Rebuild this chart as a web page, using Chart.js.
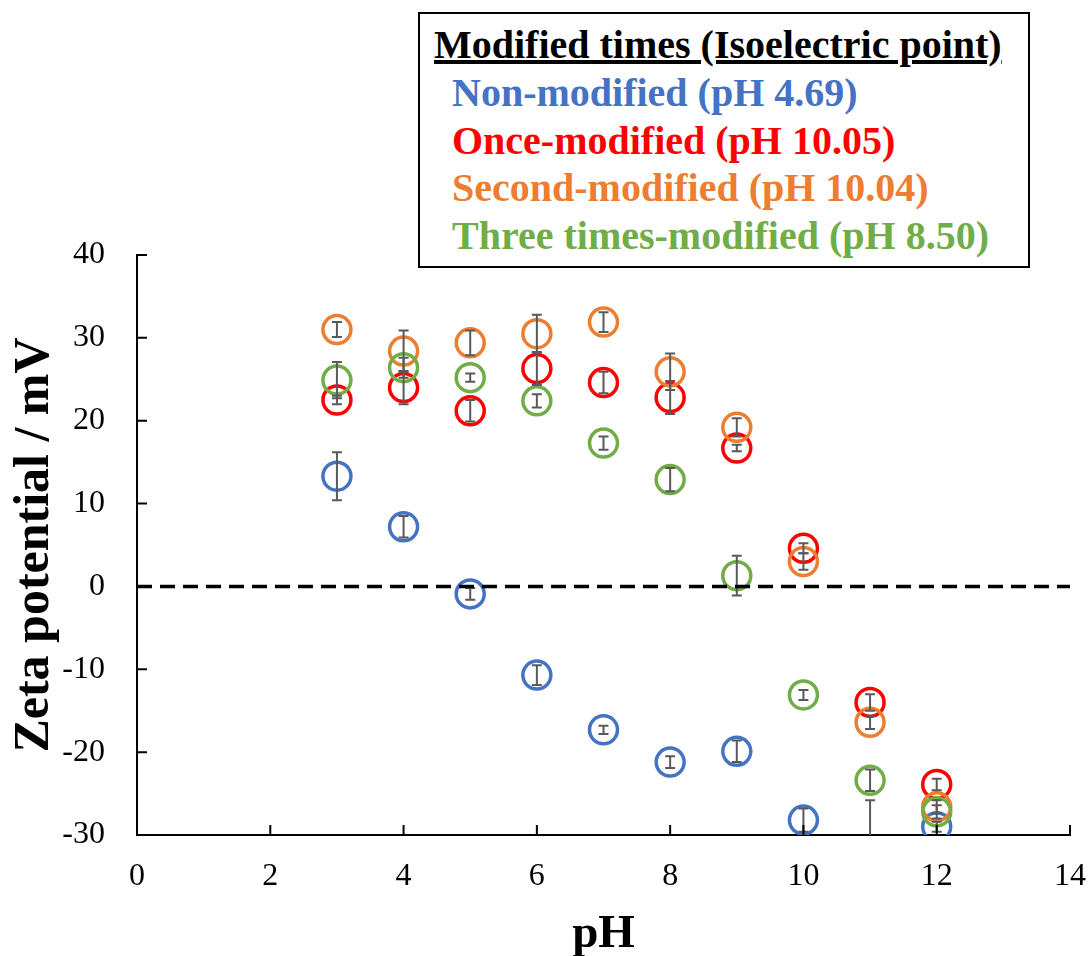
<!DOCTYPE html>
<html>
<head>
<meta charset="utf-8">
<script src="https://cdn.jsdelivr.net/npm/chart.js@4/dist/chart.umd.min.js"></script>
<style>
  body { margin: 0; background: #fff; }
  #wrap { position: relative; width: 1091px; height: 956px; }
  #legendBox {
    position: absolute; left: 418px; top: 12px; width: 608px; height: 252px;
    border: 2px solid #000; background: #fff;
    font-family: "Liberation Serif", "Times New Roman", serif; font-weight: bold; font-size: 40px;
  }
  #legendBox div { position: absolute; white-space: nowrap; line-height: 1; }
</style>
</head>
<body>
<div id="wrap">
  <canvas id="zetaChart" width="1091" height="956"></canvas>
  <div id="legendBox">
    <div style="left:14px; top:11px; text-decoration: underline; color:#000;">Modified times (Isoelectric point)</div>
    <div style="left:32px; top:59px; color:#4472C4;">Non-modified (pH 4.69)</div>
    <div style="left:32px; top:107px; color:#FF0000;">Once-modified (pH 10.05)</div>
    <div style="left:32px; top:154px; color:#ED7D31;">Second-modified (pH 10.04)</div>
    <div style="left:32px; top:202px; color:#70AD47;">Three times-modified (pH 8.50)</div>
  </div>
</div>
<script>
const pH = [3, 4, 5, 6, 7, 8, 9, 10, 11, 12];

const nonModified = [13.3, 7.2, -0.9, -10.7, -17.3, -21.2, -19.9, -28.2, -33.0, -29.0];
const nonModifiedErr = [2.9, 1.3, 0.7, 1.2, 0.5, 0.7, 1.3, 1.4, 7.2, 0.6];

const onceModified = [22.5, 24.0, 21.2, 26.3, 24.6, 22.8, 16.7, 4.6, -14.0, -23.9];
const onceModifiedErr = [0.5, 2.0, 1.3, 2.0, 1.3, 2.0, 0.4, 0.6, 1.0, 0.7];

const secondModified = [31.0, 28.4, 29.4, 30.5, 31.9, 25.9, 19.2, 3.0, -16.4, -26.6];
const secondModifiedErr = [0.9, 2.5, 1.5, 2.3, 1.2, 2.2, 1.1, 1.0, 0.8, 0.8];

const threeModified = [24.9, 26.4, 25.2, 22.4, 17.3, 12.9, 1.3, -13.1, -23.4, -27.2];
const threeModifiedErr = [2.2, 1.2, 0.5, 0.8, 0.8, 1.4, 2.4, 0.6, 1.3, 0.8];

const xTicks = [0, 2, 4, 6, 8, 10, 12, 14];
const yTicks = [-30, -20, -10, 0, 10, 20, 30, 40];

const serif = '"Liberation Serif", "Times New Roman", serif';

function points(vals, errs) {
    return pH.map(function(x, i) { return { x: x, y: vals[i], err: errs[i] }; });
}

function series(label, vals, errs, color, order) {
    return {
        label: label,
        data: points(vals, errs),
        borderColor: color,
        backgroundColor: "rgba(0,0,0,0)",
        pointRadius: 14,
        pointHoverRadius: 14,
        pointBorderWidth: 3.5,
        pointHoverBorderWidth: 3.5,
        showLine: false,
        order: order
    };
}

// error bars, zero line and inward tick marks
const extras = {
    id: "extras",
    afterDatasetsDraw(chart) {
        const ctx = chart.ctx;
        const xs = chart.scales.x, ys = chart.scales.y;
        const area = chart.chartArea;
        ctx.save();
        ctx.beginPath();
        ctx.rect(area.left, area.top - 20, area.right - area.left, area.bottom - area.top + 20);
        ctx.clip();
        ctx.strokeStyle = "#595959";
        ctx.lineWidth = 2;
        chart.data.datasets.forEach(function(ds) {
            ds.data.forEach(function(p) {
                const px = xs.getPixelForValue(p.x);
                const top = ys.getPixelForValue(p.y + p.err);
                const bot = ys.getPixelForValue(p.y - p.err);
                ctx.beginPath();
                ctx.moveTo(px, top); ctx.lineTo(px, bot);
                ctx.moveTo(px - 5, top); ctx.lineTo(px + 5, top);
                ctx.moveTo(px - 5, bot); ctx.lineTo(px + 5, bot);
                ctx.stroke();
            });
        });
        ctx.restore();

        // dashed zero line
        ctx.save();
        ctx.strokeStyle = "#000";
        ctx.lineWidth = 3.5;
        ctx.setLineDash([15, 8]);
        const y0 = ys.getPixelForValue(0);
        ctx.beginPath();
        ctx.moveTo(area.left, y0); ctx.lineTo(area.right, y0);
        ctx.stroke();
        ctx.restore();

        // tick marks pointing into the plot
        ctx.save();
        ctx.strokeStyle = "#000";
        ctx.lineWidth = 2;
        ctx.beginPath();
        xTicks.forEach(function(v) {
            const px = xs.getPixelForValue(v);
            ctx.moveTo(px, area.bottom); ctx.lineTo(px, area.bottom - 10);
        });
        yTicks.forEach(function(v) {
            const py = ys.getPixelForValue(v);
            ctx.moveTo(area.left, py); ctx.lineTo(area.left + 10, py);
        });
        ctx.stroke();
        ctx.restore();
    }
};

const ctx = document.getElementById("zetaChart").getContext("2d");
new Chart(ctx, {
    type: "scatter",
    data: {
        datasets: [
            series("Non-modified (pH 4.69)", nonModified, nonModifiedErr, "#4472C4", 3),
            series("Once-modified (pH 10.05)", onceModified, onceModifiedErr, "#FF0000", 2),
            series("Second-modified (pH 10.04)", secondModified, secondModifiedErr, "#ED7D31", 1),
            series("Three times-modified (pH 8.50)", threeModified, threeModifiedErr, "#70AD47", 0)
        ]
    },
    options: {
        responsive: false,
        animation: false,
        events: [],
        layout: { padding: { top: 255, right: 0, bottom: 0, left: 0 } },
        plugins: {
            legend: { display: false },
            tooltip: { enabled: false }
        },
        scales: {
            x: {
                type: "linear",
                min: 0, max: 14,
                afterBuildTicks: function(scale) { scale.ticks = xTicks.map(function(v) { return { value: v }; }); },
                afterFit: function(scale) { scale.height = 121; scale.paddingRight = 21; scale.paddingLeft = 0; },
                grid: { display: true, drawOnChartArea: false, drawTicks: false },
                border: { display: true, color: "#000", width: 2 },
                ticks: { color: "#000", padding: 22, font: { family: serif, size: 32 } },
                title: {
                    display: true, text: "pH", color: "#000",
                    font: { family: serif, size: 47, weight: "bold" },
                    padding: { top: 0, bottom: -7 }
                }
            },
            y: {
                type: "linear",
                min: -30, max: 40,
                afterBuildTicks: function(scale) { scale.ticks = yTicks.map(function(v) { return { value: v }; }); },
                afterFit: function(scale) { scale.width = 137; },
                grid: { display: true, drawOnChartArea: false, drawTicks: false },
                border: { display: true, color: "#000", width: 2 },
                ticks: { color: "#000", padding: 32, font: { family: serif, size: 32 } },
                title: {
                    display: true, text: "Zeta potential / mV", color: "#000",
                    font: { family: serif, size: 50, weight: "bold" },
                    padding: { top: 5, bottom: 0 }
                }
            }
        }
    },
    plugins: [extras]
});
</script>
</body>
</html>
